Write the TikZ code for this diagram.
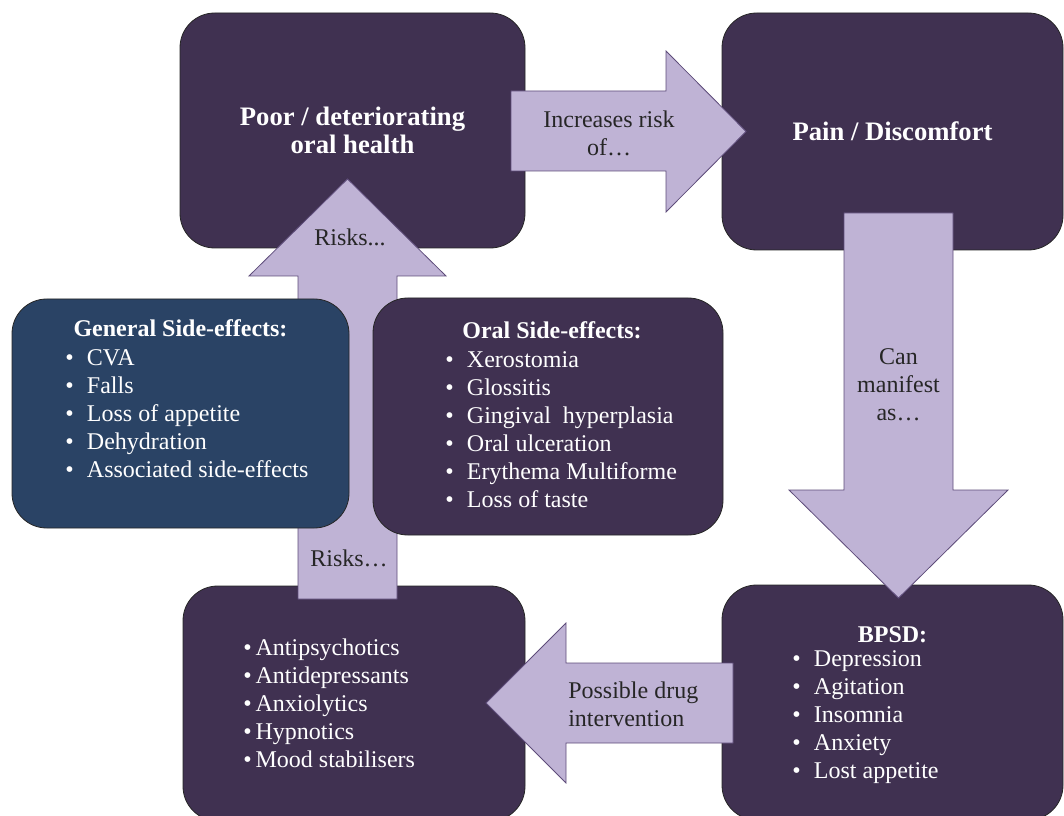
\documentclass[tikz,border=0pt]{standalone}
\usepackage{fontspec}
\setmainfont{Liberation Serif}
\definecolor{boxpurple}{HTML}{403151}
\definecolor{boxblue}{HTML}{2A4365}
\definecolor{arrowfill}{HTML}{BFB3D5}
\definecolor{arrowline}{HTML}{5E4C7A}
\definecolor{labelgray}{HTML}{262626}
\tikzset{
  box/.style={draw=black!85, line width=0.6pt, rounded corners=26pt, fill=boxpurple, inner sep=0pt},
  blockarrow/.style={draw=arrowline, line width=0.6pt, fill=arrowfill, line join=miter},
  bigtitle/.style={text=white, font=\bfseries\fontsize{20}{21}\selectfont, align=center, inner sep=0pt},
  boxtitle/.style={text=white, font=\bfseries\fontsize{18}{21}\selectfont, inner sep=0pt},
  boxlist/.style={text=white, font=\fontsize{18}{21}\selectfont, align=left, anchor=west, inner sep=0pt},
  arrowtext/.style={text=labelgray, font=\fontsize{18}{21}\selectfont, align=center, inner sep=0pt}
}
\newcommand{\itm}[1]{\textbullet\hspace{10pt}#1}
\begin{document}
\begin{tikzpicture}[x=0.75pt, y=-0.75pt]
\useasboundingbox (0,0) rectangle (1064,816);
\clip (0,0) rectangle (1064,816);

% corner boxes
\node[box, minimum width=258.75pt, minimum height=176.25pt] (poor) at (352.5,130.5) {};
\node[box, minimum width=255.75pt, minimum height=177.75pt] (pain) at (892.5,131.5) {};
\node[box, minimum width=256.5pt, minimum height=176.25pt] (drugs) at (354,703.5) {};
\node[box, minimum width=255.75pt, minimum height=176.25pt] (bpsd) at (892.5,702.5) {};

% block arrows
\path[blockarrow] (511,91) -- (666,91) -- (666,51) -- (746,131.5) -- (666,212) -- (666,171) -- (511,171) -- cycle;
\path[blockarrow] (844,213) -- (953,213) -- (953,490) -- (1008,490) -- (898.5,598) -- (789,490) -- (844,490) -- cycle;
\path[blockarrow] (733,663) -- (566,663) -- (566,623) -- (486,703) -- (566,783) -- (566,743) -- (733,743) -- cycle;
\path[blockarrow] (298,599) -- (298,276) -- (249,276) -- (347.5,179) -- (446,276) -- (397,276) -- (397,599) -- cycle;

% side-effect boxes (over the up arrow)
\node[box, fill=boxblue, minimum width=252.75pt, minimum height=171.75pt] (general) at (180.5,413.5) {};
\node[box, minimum width=262.5pt, minimum height=177.75pt] (oral) at (548,416.5) {};

% texts
\node[bigtitle] (poor-text) at (poor) {Poor / deteriorating\\oral health};
\node[bigtitle] (pain-text) at (pain) {Pain / Discomfort};

\node[boxtitle] (general-title) at (180.5,328) {General Side-effects:};
\node[boxlist] (general-list) at (65,414) {\itm{CVA}\\\itm{Falls}\\\itm{Loss of appetite}\\\itm{Dehydration}\\\itm{Associated side-effects}};

\node[boxtitle] (oral-title) at (552,330) {Oral Side-effects:};
\node[boxlist] (oral-list) at (445,430) {\itm{Xerostomia}\\\itm{Glossitis}\\\itm{Gingival\ \ hyperplasia}\\\itm{Oral ulceration}\\\itm{Erythema Multiforme}\\\itm{Loss of taste}};

\node[boxtitle] (bpsd-title) at (892.5,635) {BPSD:};
\node[boxlist] (bpsd-list) at (792,717.5) {\itm{Depression}\\\itm{Agitation}\\\itm{Insomnia}\\\itm{Anxiety}\\\itm{Lost appetite}};

\node[boxlist] (drugs-list) at (243,703.5) {\textbullet\hspace{3pt}Antipsychotics\\\textbullet\hspace{3pt}Antidepressants\\\textbullet\hspace{3pt}Anxiolytics\\\textbullet\hspace{3pt}Hypnotics\\\textbullet\hspace{3pt}Mood stabilisers};

\node[arrowtext] (increases) at (609,133) {Increases risk\\of…};
\node[arrowtext] (manifest) at (898.5,385) {Can\\manifest\\as…};
\node[arrowtext, align=left, anchor=west] (intervention) at (568,704) {Possible drug\\intervention};
\node[arrowtext] (risks-up) at (350,237) {Risks...};
\node[arrowtext] (risks-low) at (349,558) {Risks…};
\end{tikzpicture}
\end{document}
